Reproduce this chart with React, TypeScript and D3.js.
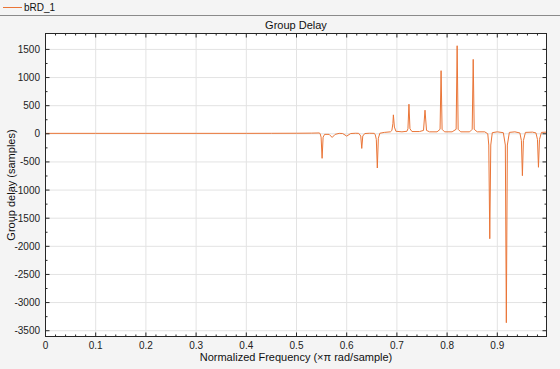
import React from "react";
import * as d3 from "d3";

const freq = [
  0, 0.1, 0.2, 0.3, 0.4, 0.45, 0.5, 0.53, 0.545,
  0.547, 0.549, 0.551, 0.553, 0.556,
  0.565, 0.571, 0.577, 0.585,
  0.592, 0.6, 0.608, 0.618,
  0.624, 0.628, 0.63, 0.632, 0.636,
  0.645, 0.655,
  0.657, 0.659, 0.661, 0.663, 0.666,
  0.675, 0.687,
  0.69, 0.692, 0.693, 0.695, 0.698,
  0.71, 0.72,
  0.722, 0.724, 0.726, 0.73,
  0.745, 0.753, 0.756, 0.759, 0.765,
  0.78, 0.786, 0.788, 0.79, 0.795,
  0.81, 0.818, 0.82, 0.822, 0.827,
  0.845, 0.85, 0.852, 0.854, 0.86,
  0.875, 0.881, 0.883, 0.885, 0.887, 0.89, 0.9,
  0.912, 0.916, 0.918, 0.92, 0.924, 0.935,
  0.945, 0.948, 0.95, 0.952, 0.956, 0.97,
  0.977, 0.98, 0.982, 0.984, 0.988, 0.998,
];
const delay = [
  8, 8, 8, 8, 8, 9, 10, 12, 15,
  5, -60, -436, -60, -10,
  -10, -64, -10, 8,
  5, -41, 5, 10,
  8, -40, -260, -40, 5,
  10, 8,
  -20, -100, -608, -80, 10,
  25, 35,
  60, 180, 337, 120, 45,
  35, 45,
  90, 526, 90, 40,
  40, 60, 420, 60, 35,
  35, 80, 1122, 80, 35,
  35, 80, 1565, 80, 35,
  35, 80, 1323, 80, 35,
  35, 0, -200, -1865, -200, 20, 35,
  20, -200, -3358, -200, 25, 35,
  15, -120, -744, -120, 25, 30,
  15, -100, -595, -100, 25, 30,
];

const xTicks = [0, 0.1, 0.2, 0.3, 0.4, 0.5, 0.6, 0.7, 0.8, 0.9];
const yTicks = [1500, 1000, 500, 0, -500, -1000, -1500, -2000, -2500, -3000, -3500];
const seriesName = "bRD_1";
const title = "Group Delay";
const xLabel = "Normalized Frequency (\u00d7\u03c0 rad/sample)";
const yLabel = "Group delay (samples)";

const W = 560, H = 369;
const M = { left: 45.5, right: 546.5, top: 33.5, bottom: 336.5 };
const FONT = "'Liberation Sans', Arial, Helvetica, sans-serif";
const COLOR = "#ea7537";
const AX = "#262626";

export default function App() {
  const x = d3.scaleLinear().domain([0, 0.998]).range([M.left, M.right]);
  const y = d3.scaleLinear().domain([-3603, 1783]).range([M.bottom, M.top]);
  const pts = freq.map((f, i) => [f, delay[i]] as [number, number]);
  const line = d3.line<[number, number]>().x((d) => x(d[0])).y((d) => y(d[1]));

  const xMinor = d3.range(0, 0.999, 0.02).filter((v) => Math.abs(Math.round(v * 10) / 10 - v) > 1e-6);
  const yMinor = d3.range(-3500, 1750, 250).filter((v) => v % 500 !== 0);

  return (
    <svg width={W} height={H} style={{ position: "fixed", left: 0, top: 0, display: "block" }} fontFamily={FONT}>
      <rect x={0} y={0} width={W} height={H} fill="#f4f4f4" />
      {/* legend header */}
      <line x1={3} x2={22} y1={7.5} y2={7.5} stroke={COLOR} strokeWidth={1} />
      <text x={24} y={11} fontSize={10} fill="#111">{seriesName}</text>
      <line x1={0} x2={W} y1={15.5} y2={15.5} stroke="#8a8a8a" strokeWidth={1} />
      {/* title */}
      <text x={(M.left + M.right) / 2} y={29} fontSize={11} textAnchor="middle" fill="#111">{title}</text>
      {/* plot area */}
      <rect x={M.left} y={M.top} width={M.right - M.left} height={M.bottom - M.top} fill="#ffffff" />
      {xTicks.map((t) => (
        <line key={"gx" + t} x1={x(t)} x2={x(t)} y1={M.top} y2={M.bottom} stroke="#e3e3e3" strokeWidth={1} />
      ))}
      {yTicks.map((t) => (
        <line key={"gy" + t} x1={M.left} x2={M.right} y1={y(t)} y2={y(t)} stroke="#e3e3e3" strokeWidth={1} />
      ))}
      <path d={line(pts) || ""} fill="none" stroke={COLOR} strokeWidth={1} strokeLinejoin="round" />
      {/* box */}
      <rect x={M.left} y={M.top} width={M.right - M.left} height={M.bottom - M.top} fill="none" stroke={AX} strokeWidth={1} />
      {/* ticks */}
      {xTicks.map((t) => (
        <g key={"tx" + t}>
          <line x1={x(t)} x2={x(t)} y1={M.bottom} y2={M.bottom - 4} stroke={AX} />
          <line x1={x(t)} x2={x(t)} y1={M.top} y2={M.top + 4} stroke={AX} />
          <text x={x(t)} y={349} fontSize={10} textAnchor="middle" fill="#222">{t}</text>
        </g>
      ))}
      {xMinor.map((t) => (
        <g key={"mx" + t}>
          <line x1={x(t)} x2={x(t)} y1={M.bottom} y2={M.bottom - 2} stroke={AX} />
          <line x1={x(t)} x2={x(t)} y1={M.top} y2={M.top + 2} stroke={AX} />
        </g>
      ))}
      {yTicks.map((t) => (
        <g key={"ty" + t}>
          <line x1={M.left} x2={M.left + 4} y1={y(t)} y2={y(t)} stroke={AX} />
          <line x1={M.right} x2={M.right - 4} y1={y(t)} y2={y(t)} stroke={AX} />
          <text x={40} y={y(t) + 3.5} fontSize={10} textAnchor="end" fill="#222">{t}</text>
        </g>
      ))}
      {yMinor.map((t) => (
        <g key={"my" + t}>
          <line x1={M.left} x2={M.left + 2} y1={y(t)} y2={y(t)} stroke={AX} />
          <line x1={M.right} x2={M.right - 2} y1={y(t)} y2={y(t)} stroke={AX} />
        </g>
      ))}
      {/* axis labels */}
      <text x={(M.left + M.right) / 2} y={361} fontSize={11} textAnchor="middle" fill="#111">{xLabel}</text>
      <text transform={`translate(15,${(M.top + M.bottom) / 2}) rotate(-90)`} fontSize={11} textAnchor="middle" fill="#111">{yLabel}</text>
    </svg>
  );
}
